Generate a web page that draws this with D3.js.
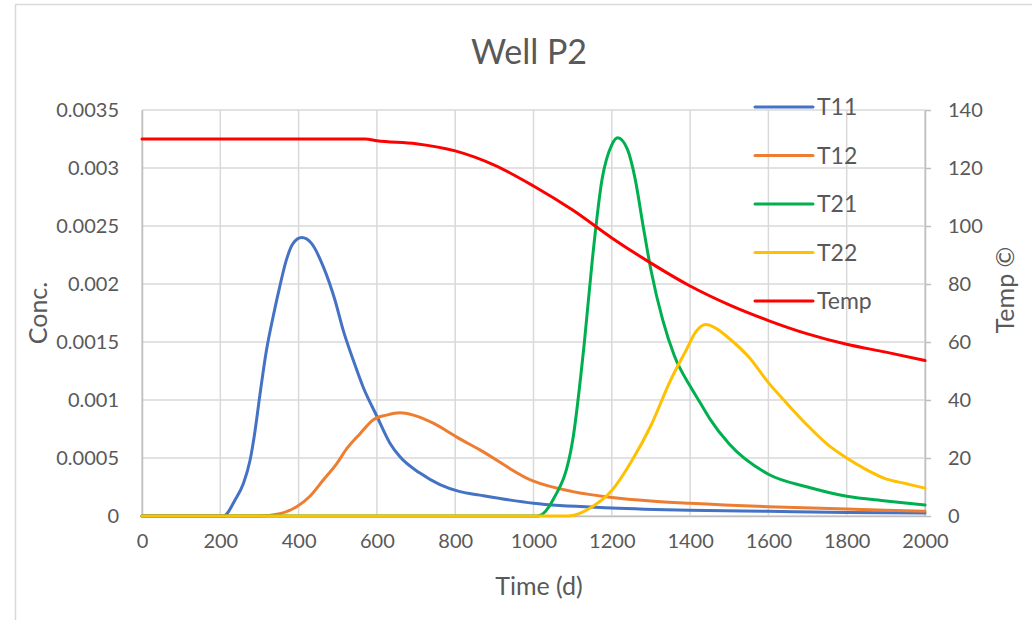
<!DOCTYPE html>
<html>
<head>
<meta charset="utf-8">
<script src="https://cdn.jsdelivr.net/npm/d3@7"></script>
<style>
  html, body { margin: 0; padding: 0; background: #ffffff; }
  svg { display: block; font-family: Lato, "Open Sans", sans-serif; }
</style>
</head>
<body>
<svg id="chart" width="1032" height="620"></svg>
<script>
// Tracer concentrations and temperature at well P2
const title = "Well P2";
const xLabel = "Time (d)";
const yLabel = "Conc.";
const y2Label = "Temp ©";

const xTicks = [0, 200, 400, 600, 800, 1000, 1200, 1400, 1600, 1800, 2000];
const yTicks = [0, 0.0005, 0.001, 0.0015, 0.002, 0.0025, 0.003, 0.0035];
const yTickLabels = ["0", "0.0005", "0.001", "0.0015", "0.002", "0.0025", "0.003", "0.0035"];
const y2Ticks = [0, 20, 40, 60, 80, 100, 120, 140];

const seriesNames = ["T11", "T12", "T21", "T22", "Temp"];
const seriesColors = ["#4472C4", "#ED7D31", "#00B050", "#FFC000", "#FF0000"];

const t11Time = [0, 208, 238, 259, 276, 289, 301, 318, 335, 352, 369, 386, 408, 433, 463, 493, 514, 540, 565, 600, 633, 659, 710, 761, 812, 863, 1000, 1200, 1400, 1600, 1800, 2000];
const t11Conc = [0, 0, 0.00014, 0.00028, 0.00048, 0.00074, 0.00104, 0.00143, 0.00172, 0.00198, 0.00221, 0.00235, 0.0024, 0.00235, 0.00215, 0.00186, 0.0016, 0.00134, 0.00111, 0.00086, 0.00063, 0.00051, 0.00037, 0.00027, 0.00021, 0.00018, 0.00011, 0.00007, 0.00005, 0.00004, 0.00003, 0.000025];

const t12Time = [0, 297, 352, 395, 429, 463, 497, 523, 557, 591, 625, 659, 693, 744, 804, 863, 1000, 1100, 1200, 1300, 1400, 1600, 1800, 2000];
const t12Conc = [0, 0, 0.00002, 0.00008, 0.00017, 0.00031, 0.00045, 0.00058, 0.00071, 0.00083, 0.00087, 0.00089, 0.00087, 0.0008, 0.00068, 0.00057, 0.0003, 0.00021, 0.00016, 0.00013, 0.00011, 0.00008, 0.00006, 0.00004];

const t21Time = [0, 1010, 1050, 1100, 1130, 1150, 1175, 1200, 1215, 1240, 1260, 1280, 1300, 1330, 1360, 1400, 1425, 1450, 1500, 1600, 1700, 1800, 1900, 2000];
const t21Conc = [0, 0, 0.00014, 0.00065, 0.0015, 0.0022, 0.0029, 0.0032, 0.00326, 0.00316, 0.0029, 0.0025, 0.00212, 0.00169, 0.00138, 0.00112, 0.00098, 0.00084, 0.00062, 0.00036, 0.00025, 0.00017, 0.00013, 0.000095];

const t22Time = [0, 1080, 1100, 1150, 1200, 1250, 1300, 1350, 1390, 1415, 1440, 1465, 1500, 1550, 1600, 1650, 1700, 1750, 1800, 1850, 1900, 1950, 2000];
const t22Conc = [0, 0, 0.000005, 0.00008, 0.00022, 0.00047, 0.00078, 0.00117, 0.00143, 0.00159, 0.00165, 0.00162, 0.00153, 0.00137, 0.00115, 0.00096, 0.00078, 0.00062, 0.0005, 0.0004, 0.00032, 0.00028, 0.00024];

const tempTime = [0, 570, 600, 700, 800, 900, 1000, 1100, 1200, 1300, 1400, 1500, 1600, 1700, 1800, 1900, 2000];
const tempValue = [130, 130, 129.4, 128.4, 125.9, 121, 113.8, 105.5, 95.9, 87.2, 79.3, 72.8, 67.4, 62.8, 59.2, 56.5, 53.6];

const svg = d3.select("#chart");
const W = 1032, H = 620;
const plot = { left: 142, right: 925, top: 110, bottom: 516 };
const textColor = "#595959";

svg.append("rect").attr("width", W).attr("height", H).attr("fill", "#ffffff");

// outer chart frame (top and left edges visible)
svg.append("path")
  .attr("d", `M15.5,${H} L15.5,4.5 L${W},4.5`)
  .attr("fill", "none").attr("stroke", "#d9d9d9").attr("stroke-width", 1.5);

const x = d3.scaleLinear().domain([0, 2000]).range([plot.left, plot.right]);
const y = d3.scaleLinear().domain([0, 0.0035]).range([plot.bottom, plot.top]);
const y2 = d3.scaleLinear().domain([0, 140]).range([plot.bottom, plot.top]);

// gridlines
const grid = svg.append("g").attr("stroke", "#d9d9d9").attr("stroke-width", 1.5);
xTicks.forEach(t => {
  grid.append("line").attr("x1", x(t)).attr("x2", x(t)).attr("y1", plot.top).attr("y2", plot.bottom);
});
yTicks.forEach(v => {
  grid.append("line").attr("x1", plot.left).attr("x2", plot.right).attr("y1", y(v)).attr("y2", y(v));
});

// left axis
const leftAxis = svg.append("g").attr("transform", `translate(${plot.left},0)`)
  .call(d3.axisLeft(y).tickValues(yTicks).tickSize(0).tickPadding(23)
    .tickFormat((d, i) => yTickLabels[i]));
leftAxis.select(".domain").attr("stroke", "#bfbfbf").attr("stroke-width", 1.5);

// right axis
const rightAxis = svg.append("g").attr("transform", `translate(${plot.right},0)`)
  .call(d3.axisRight(y2).tickValues(y2Ticks).tickSizeOuter(0).tickSizeInner(6).tickPadding(17)
    .tickFormat(d3.format("d")));
rightAxis.select(".domain").attr("stroke", "#bfbfbf").attr("stroke-width", 1.5);
rightAxis.selectAll(".tick line").attr("stroke", "#bfbfbf").attr("stroke-width", 1.5);

// bottom axis
const bottomAxis = svg.append("g").attr("transform", `translate(0,${plot.bottom})`)
  .call(d3.axisBottom(x).tickValues(xTicks).tickSize(0).tickPadding(18)
    .tickFormat(d3.format("d")));
bottomAxis.select(".domain").attr("stroke", "#bfbfbf").attr("stroke-width", 1.5);

svg.selectAll(".tick text").attr("fill", textColor).style("font-size", "20px")
  .style("font-family", "Lato, 'Open Sans', sans-serif");

// series lines
const lineConc = d3.line().x(d => x(d[0])).y(d => y(d[1])).curve(d3.curveMonotoneX);
const lineTemp = d3.line().x(d => x(d[0])).y(d => y2(d[1])).curve(d3.curveMonotoneX);

const concSeries = [
  [t11Time, t11Conc],
  [t12Time, t12Conc],
  [t21Time, t21Conc],
  [t22Time, t22Conc]
];
const lines = svg.append("g").attr("fill", "none").attr("stroke-width", 3)
  .attr("stroke-linejoin", "round").attr("stroke-linecap", "round");
concSeries.forEach(([ts, vs], i) => {
  lines.append("path")
    .attr("d", lineConc(ts.map((t, j) => [t, vs[j]])))
    .attr("stroke", seriesColors[i]);
});
lines.append("path")
  .attr("d", lineTemp(tempTime.map((t, j) => [t, tempValue[j]])))
  .attr("stroke", seriesColors[4]);

// legend
const legend = svg.append("g").attr("transform", "translate(755,107)");
seriesNames.forEach((name, i) => {
  const g = legend.append("g").attr("transform", `translate(0,${i * 48.5})`);
  g.append("line").attr("x1", 0).attr("x2", 58).attr("y1", 0).attr("y2", 0)
    .attr("stroke", seriesColors[i]).attr("stroke-width", 3).attr("stroke-linecap", "round");
  g.append("text").attr("x", 62).attr("y", 0).attr("dy", "0.35em")
    .attr("fill", textColor).style("font-size", "23px").text(name);
});

// title and axis titles
svg.append("text").attr("x", 529).attr("y", 64).attr("text-anchor", "middle")
  .attr("fill", textColor).style("font-size", "34px").text(title);

svg.append("text").attr("x", 539).attr("y", 595).attr("text-anchor", "middle")
  .attr("fill", textColor).style("font-size", "25px").text(xLabel);

svg.append("text").attr("transform", "translate(47,313) rotate(-90)").attr("text-anchor", "middle")
  .attr("fill", textColor).style("font-size", "25px").text(yLabel);

svg.append("text").attr("transform", "translate(1014,290) rotate(-90)").attr("text-anchor", "middle")
  .attr("fill", textColor).style("font-size", "25px").text(y2Label);
</script>
</body>
</html>
